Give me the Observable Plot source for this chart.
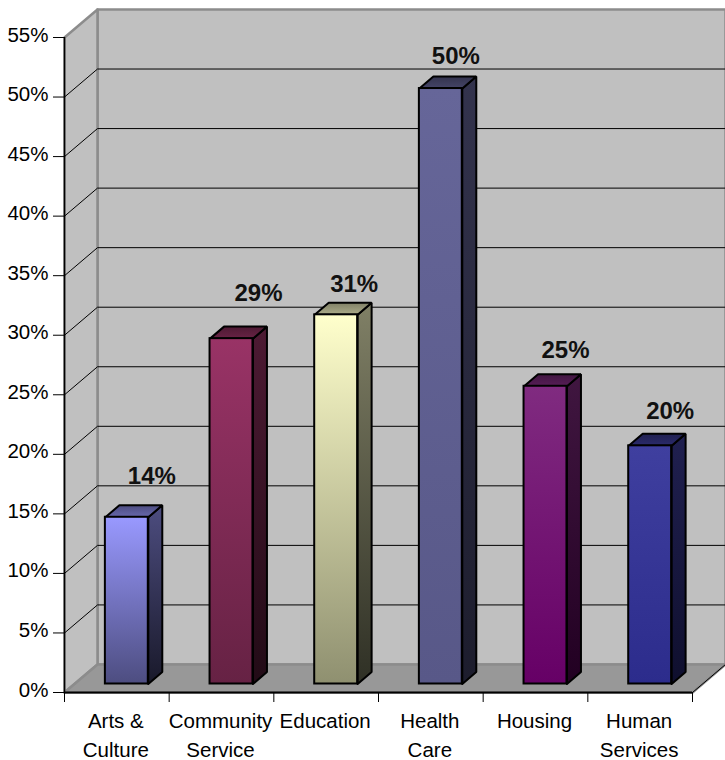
<!DOCTYPE html>
<html>
<head>
<meta charset="utf-8">
<style>html,body{margin:0;padding:0;background:#fff}</style>
<script src="https://cdn.jsdelivr.net/npm/d3@7"></script>
<script src="https://cdn.jsdelivr.net/npm/@observablehq/plot@0.6"></script>
</head>
<body>
<script>
const categories = ["Arts &\nCulture", "Community\nService", "Education", "Health\nCare", "Housing", "Human\nServices"];
const values = [14, 29, 31, 50, 25, 20];
const yTicks = [0, 5, 10, 15, 20, 25, 30, 35, 40, 45, 50, 55];
const xTicks = [0, 1, 2, 3, 4, 5, 6];
const colorsTop = ["#9999ff", "#993366", "#ffffcc", "#666699", "#802b80", "#3f3f9f"];
const colorsBottom = ["#4d4d80", "#662244", "#8f9070", "#585888", "#660066", "#2c2c8c"];
// label nudges, pixels from the top of each bar's column
const labelDx = [25, 27, 18, 15, 20, 20];
const labelDy = [-49, -54, -39, -41, -44, -43];

// 3-D projection depths, in data units
const wallX = 33 / 104.67, wallY = 28 / 11.9;
const barStartX = 10 / 104.67, barStartY = 8.5 / 11.9;
const barDepthX = 14 / 104.67, barDepthY = 12 / 11.9;
const barInset = 0.295;

const shade = (c, k) => { const r = d3.rgb(c); return d3.rgb(r.r * k, r.g * k, r.b * k).formatHex(); };
const poly = (pts) => [...pts, pts[0]];
const X = (p) => p[0], Y = (p) => p[1];

function gradientDefs() {
  const defs = d3.create("svg:defs");
  const add = (id, a, b) => {
    const g = defs.append("linearGradient").attr("id", id).attr("x1", 0).attr("y1", 0).attr("x2", 0).attr("y2", 1);
    g.append("stop").attr("offset", "0%").attr("stop-color", a);
    g.append("stop").attr("offset", "100%").attr("stop-color", b);
  };
  values.forEach((_, i) => {
    add(`front${i}`, colorsTop[i], colorsBottom[i]);
    add(`side${i}`, shade(colorsTop[i], 0.5), shade(colorsBottom[i], 0.33));
    add(`lid${i}`, shade(colorsTop[i], 0.5), shade(colorsTop[i], 0.68));
  });
  return defs.node();
}

const barMarks = values.flatMap((v, i) => {
  const x1 = i + barInset + barStartX, x2 = i + 1 - barInset + barStartX;
  const y1 = barStartY, y2 = v + barStartY;
  const dx = barDepthX, dy = barDepthY;
  const edge = {x: X, y: Y, stroke: "#000", strokeWidth: 2, strokeLinejoin: "miter"};
  return [
    Plot.line(poly([[x2, y1], [x2 + dx, y1 + dy], [x2 + dx, y2 + dy], [x2, y2]]), {...edge, fill: `url(#side${i})`}),
    Plot.line(poly([[x1, y2], [x2, y2], [x2 + dx, y2 + dy], [x1 + dx, y2 + dy]]), {...edge, fill: `url(#lid${i})`}),
    Plot.rect([v], {x1, x2, y1, y2, fill: `url(#front${i})`, stroke: "#000", strokeWidth: 2})
  ];
});

const labelMarks = values.map((v, i) =>
  Plot.text([v], {
    x: i + 0.5 + barStartX, y: (d) => d, text: (d) => `${d}%`,
    dx: labelDx[i], dy: labelDy[i],
    fontWeight: "bold", fontSize: 24, fill: "#111"
  })
);

const wallStroke = {stroke: "#8c8c8c", strokeWidth: 2.5};

const chart = Plot.plot({
  width: 725,
  height: 760,
  marginLeft: 64,
  marginRight: 33,
  marginTop: 37,
  marginBottom: 68,
  style: {fontFamily: "'Liberation Sans', Arial, sans-serif", fontSize: "20.5px", background: "#fff", color: "#000"},
  x: {type: "linear", domain: [0, 6], range: [64, 692], axis: null},
  y: {type: "linear", domain: [0, 55], range: [692, 37], axis: null},
  marks: [
    gradientDefs,
    // back wall, left wall, floor
    Plot.line(poly([[wallX, wallY], [6 + wallX, wallY], [6 + wallX, 55 + wallY], [wallX, 55 + wallY]]), {x: X, y: Y, fill: "#c0c0c0", ...wallStroke}),
    Plot.line(poly([[0, 0], [wallX, wallY], [wallX, 55 + wallY], [0, 55]]), {x: X, y: Y, fill: "#c0c0c0", ...wallStroke}),
    Plot.line(poly([[0, 0], [6, 0], [6 + wallX, wallY], [wallX, wallY]]), {x: X, y: Y, fill: "#989898", ...wallStroke}),
    // gridlines
    Plot.link(yTicks.slice(1, -1), {x1: wallX, x2: 6 + wallX, y1: (d) => d + wallY, y2: (d) => d + wallY, stroke: "#000", strokeWidth: 1}),
    Plot.link(yTicks.slice(1, -1), {x1: 0, x2: wallX, y1: (d) => d, y2: (d) => d + wallY, stroke: "#000", strokeWidth: 1}),
    Plot.link([0], {x1: 6, x2: 6 + wallX, y1: 0, y2: wallY, stroke: "#000", strokeWidth: 1}),
    // axes
    Plot.ruleX([0], {y1: 0, y2: 55, stroke: "#000", strokeWidth: 1.5}),
    Plot.ruleY([0], {x1: 0, x2: 6, stroke: "#000", strokeWidth: 2}),
    Plot.axisY({ticks: yTicks, tickSize: 11, fill: "none", stroke: "#000", strokeOpacity: 1, strokeWidth: 1, label: null}),
    Plot.axisY({ticks: yTicks, tickSize: 0, tickPadding: 16, dy: -2.5, tickFormat: (d) => `${d}%`, label: null, fill: "#000"}),
    Plot.axisX({ticks: xTicks, tickSize: 10, fill: "none", stroke: "#000", strokeOpacity: 1, strokeWidth: 1, label: null}),
    ...barMarks,
    ...labelMarks,
    Plot.text(categories, {x: (d, i) => i + 0.5, y: 0, text: (d) => d, lineAnchor: "top", dy: 16, dx: -1, lineHeight: 1.37, fill: "#000"})
  ]
});
document.body.appendChild(chart);
</script>
</body>
</html>
